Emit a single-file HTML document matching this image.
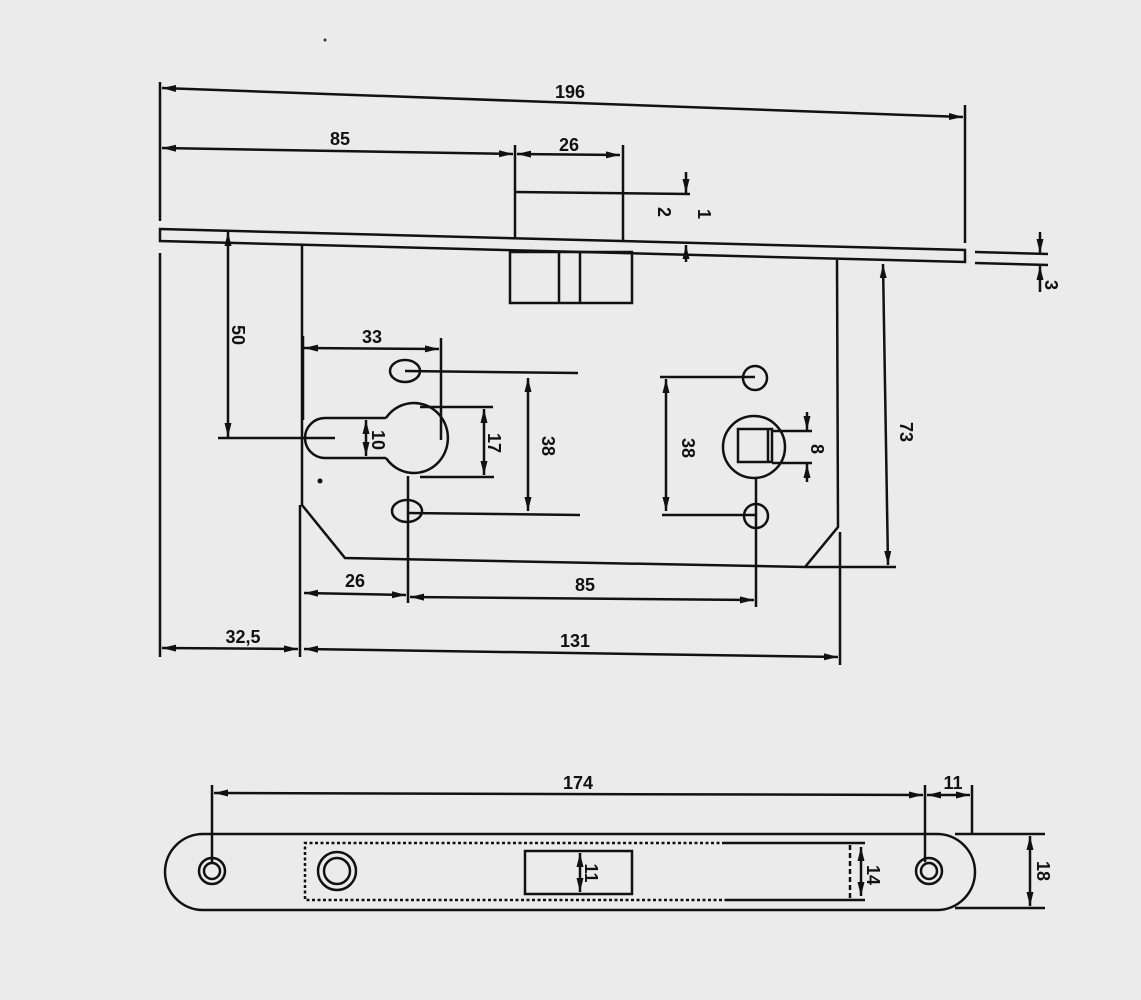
<!DOCTYPE html>
<html><head><meta charset="utf-8"><style>
html,body{margin:0;padding:0;background:#ebebec;}
svg{display:block}
text{font-family:"Liberation Sans",sans-serif;font-weight:bold;font-size:18px;fill:#111;}
</style></head><body>
<svg width="1141" height="1000" viewBox="0 0 1141 1000" xmlns="http://www.w3.org/2000/svg">
<defs>
<marker id="a" viewBox="0 0 14 8" refX="14" refY="4" markerWidth="14" markerHeight="8" markerUnits="userSpaceOnUse" orient="auto-start-reverse"><path d="M0,0.5 L14,4 L0,7.5 Z" fill="#111"/></marker>
</defs>
<rect width="1141" height="1000" fill="#ebebec"/>
<g stroke="#111" stroke-width="2.5" fill="none">
<polygon points="160,229 965,250 965,262 160,241"/>
<line x1="160" y1="82" x2="160" y2="221"/>
<line x1="160" y1="253" x2="160" y2="657"/>
<line x1="965" y1="105" x2="965" y2="243"/>
<line x1="162" y1="88" x2="963" y2="117" marker-start="url(#a)" marker-end="url(#a)"/>
<line x1="162" y1="148" x2="513" y2="154" marker-start="url(#a)" marker-end="url(#a)"/>
<line x1="517" y1="154" x2="620" y2="155" marker-start="url(#a)" marker-end="url(#a)"/>
<line x1="515" y1="145" x2="515" y2="238"/>
<line x1="623" y1="145" x2="623" y2="241"/>
<line x1="515" y1="192" x2="690" y2="194"/>
<line x1="686" y1="172" x2="686" y2="193" marker-end="url(#a)"/>
<line x1="686" y1="262" x2="686" y2="245" marker-end="url(#a)"/>
<rect x="510" y="252" width="122" height="51"/>
<line x1="559" y1="253" x2="559" y2="303"/>
<line x1="580" y1="253" x2="580" y2="303"/>
<polyline points="302,245 302,505 345,558 805,567 838,527 837,260"/>
<line x1="300" y1="505" x2="300" y2="657"/>
<line x1="840" y1="532" x2="840" y2="665"/>
<line x1="883" y1="264" x2="888" y2="565" marker-start="url(#a)" marker-end="url(#a)"/>
<line x1="805" y1="567" x2="896" y2="567"/>
<line x1="228" y1="232" x2="228" y2="437" marker-start="url(#a)" marker-end="url(#a)"/>
<line x1="218" y1="438" x2="335" y2="438"/>
<path d="M386,418 L325,418 A20,20 0 0 0 325,458 L386,458"/>
<path d="M386,418 A34,35 0 1 1 386,458"/>
<ellipse cx="405" cy="371" rx="15" ry="11"/>
<ellipse cx="407" cy="511" rx="15" ry="11"/>
<line x1="405" y1="371" x2="578" y2="373"/>
<line x1="407" y1="513" x2="580" y2="515"/>
<line x1="408" y1="476" x2="408" y2="603"/>
<line x1="304" y1="348" x2="439" y2="349" marker-start="url(#a)" marker-end="url(#a)"/>
<line x1="303" y1="336" x2="303" y2="420"/>
<line x1="441" y1="338" x2="441" y2="440"/>
<line x1="420" y1="407" x2="493" y2="407"/>
<line x1="420" y1="477" x2="494" y2="477"/>
<line x1="484" y1="409" x2="484" y2="475" marker-start="url(#a)" marker-end="url(#a)"/>
<line x1="366" y1="420" x2="366" y2="456" marker-start="url(#a)" marker-end="url(#a)"/>
<line x1="528" y1="378" x2="528" y2="511" marker-start="url(#a)" marker-end="url(#a)"/>
<line x1="660" y1="377" x2="755" y2="377"/>
<line x1="662" y1="515" x2="756" y2="515"/>
<line x1="666" y1="379" x2="666" y2="511" marker-start="url(#a)" marker-end="url(#a)"/>
<circle cx="755" cy="378" r="12"/>
<circle cx="756" cy="516" r="12"/>
<circle cx="754" cy="447" r="31"/>
<rect x="738" y="429" width="34" height="33"/>
<line x1="768" y1="429" x2="768" y2="462"/>
<line x1="772" y1="431" x2="812" y2="431"/>
<line x1="772" y1="463" x2="812" y2="463"/>
<line x1="807" y1="412" x2="807" y2="430" marker-end="url(#a)"/>
<line x1="807" y1="482" x2="807" y2="464" marker-end="url(#a)"/>
<line x1="756" y1="478" x2="756" y2="607"/>
<line x1="304" y1="593" x2="406" y2="595" marker-start="url(#a)" marker-end="url(#a)"/>
<line x1="410" y1="597" x2="754" y2="600" marker-start="url(#a)" marker-end="url(#a)"/>
<line x1="162" y1="648" x2="298" y2="649" marker-start="url(#a)" marker-end="url(#a)"/>
<line x1="304" y1="649" x2="838" y2="657" marker-start="url(#a)" marker-end="url(#a)"/>
<line x1="975" y1="252" x2="1048" y2="254"/>
<line x1="975" y1="263" x2="1048" y2="265"/>
<line x1="1040" y1="232" x2="1040" y2="253" marker-end="url(#a)"/>
<line x1="1040" y1="292" x2="1040" y2="266" marker-end="url(#a)"/>
<rect x="165" y="834" width="810" height="76" rx="38"/>
<circle cx="212" cy="871" r="13"/><circle cx="212" cy="871" r="8"/>
<circle cx="929" cy="871" r="13"/><circle cx="929" cy="871" r="8"/>
<circle cx="337" cy="871" r="19"/><circle cx="337" cy="871" r="13"/>
<path d="M725,843 L305,843 L305,900 L725,900" stroke-dasharray="3,2.5" stroke-width="2.5"/>
<path d="M725,843 L865,843 M725,900 L865,900"/>
<line x1="850" y1="845" x2="850" y2="898" stroke-dasharray="5,3"/>
<rect x="525" y="851" width="107" height="43"/>
<line x1="580" y1="853" x2="580" y2="892" marker-start="url(#a)" marker-end="url(#a)"/>
<line x1="861" y1="847" x2="861" y2="896" marker-start="url(#a)" marker-end="url(#a)"/>
<line x1="955" y1="834" x2="1045" y2="834"/>
<line x1="955" y1="908" x2="1045" y2="908"/>
<line x1="1030" y1="836" x2="1030" y2="906" marker-start="url(#a)" marker-end="url(#a)"/>
<line x1="212" y1="785" x2="212" y2="862"/>
<line x1="925" y1="785" x2="925" y2="862"/>
<line x1="972" y1="785" x2="972" y2="835"/>
<line x1="214" y1="793" x2="923" y2="795" marker-start="url(#a)" marker-end="url(#a)"/>
<line x1="927" y1="795" x2="970" y2="795" marker-start="url(#a)" marker-end="url(#a)"/>
</g>
<g>
<text x="570" y="98" text-anchor="middle">196</text>
<text x="340" y="145" text-anchor="middle">85</text>
<text x="569" y="151" text-anchor="middle">26</text>
<text transform="translate(658,212) rotate(90)" text-anchor="middle">2</text>
<text transform="translate(698,214) rotate(90)" text-anchor="middle">1</text>
<text transform="translate(1045,285) rotate(90)" text-anchor="middle" font-size="16">3</text>
<text transform="translate(232,335) rotate(90)" text-anchor="middle">50</text>
<text x="372" y="343" text-anchor="middle">33</text>
<text transform="translate(372,440) rotate(90)" text-anchor="middle">10</text>
<text transform="translate(488,443) rotate(90)" text-anchor="middle">17</text>
<text transform="translate(542,446) rotate(90)" text-anchor="middle">38</text>
<text transform="translate(682,448) rotate(90)" text-anchor="middle">38</text>
<text transform="translate(811,449) rotate(90)" text-anchor="middle">8</text>
<text transform="translate(900,432) rotate(90)" text-anchor="middle">73</text>
<text x="355" y="587" text-anchor="middle">26</text>
<text x="585" y="591" text-anchor="middle">85</text>
<text x="243" y="643" text-anchor="middle">32,5</text>
<text x="575" y="647" text-anchor="middle">131</text>
<text x="578" y="789" text-anchor="middle">174</text>
<text x="953" y="789" text-anchor="middle">11</text>
<text transform="translate(585,873) rotate(90)" text-anchor="middle">11</text>
<text transform="translate(867,875) rotate(90)" text-anchor="middle">14</text>
<text transform="translate(1037,871) rotate(90)" text-anchor="middle">18</text>
</g>
<circle cx="320" cy="481" r="2.5" fill="#111"/>
<circle cx="325" cy="40" r="1.5" fill="#333"/>
</svg>
</body></html>
